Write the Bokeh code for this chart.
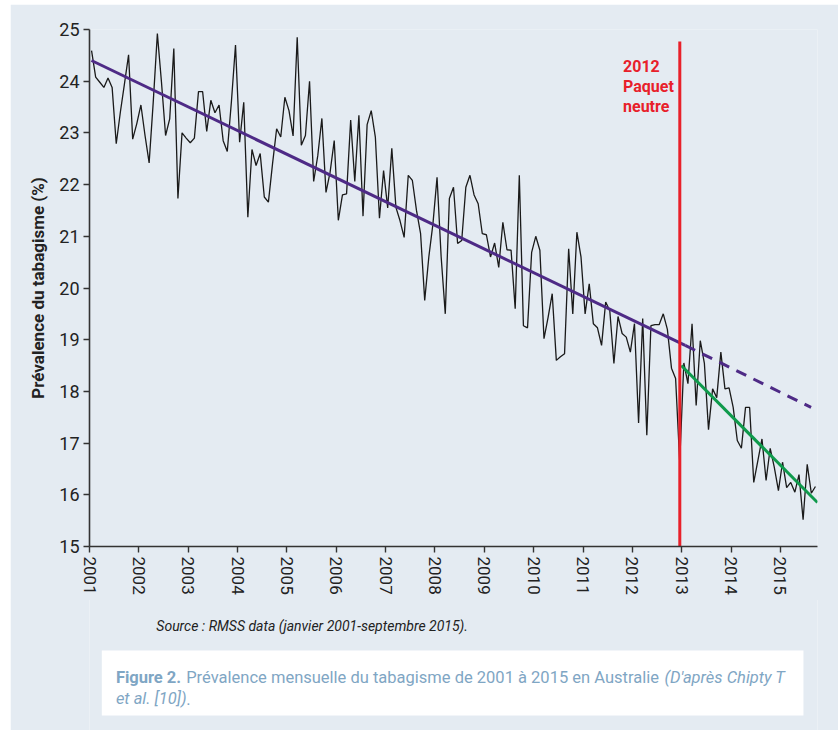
import math
from bokeh.plotting import figure
from bokeh.models import Range1d, FixedTicker, Spacer
from bokeh.layouts import column, row
from bokeh.core.properties import value
from bokeh.embed import file_html
from bokeh.resources import INLINE

# ---------------- data ----------------
# monthly smoking prevalence, Jan 2001 .. Sep 2015 (177 months)
prevalence = [
    24.59, 24.08, 23.98, 23.88, 24.06, 23.88, 22.79, 23.40, 23.95, 24.51, 22.88, 23.18,
    23.54, 22.95, 22.42, 23.60, 24.92, 23.98, 22.95, 23.27, 24.63, 21.73, 23.00, 22.90,
    22.81, 22.90, 23.80, 23.80, 23.03, 23.63, 23.39, 23.54, 22.85, 22.64, 23.60, 24.70,
    22.82, 23.59, 21.37, 22.68, 22.37, 22.60, 21.76, 21.66, 22.40, 23.08, 22.92, 23.69,
    23.43, 22.94, 24.85, 22.76, 22.95, 24.00, 22.06, 22.56, 23.28, 21.85, 22.24, 22.85,
    21.31, 21.80, 21.82, 23.25, 22.06, 23.34, 21.39, 23.16, 23.43, 22.92, 21.35, 22.27,
    21.55, 22.70, 21.56, 21.30, 20.98, 22.18, 22.08, 21.50, 21.05, 19.76, 20.60, 21.24,
    22.14, 20.60, 19.50, 21.73, 21.95, 20.86, 20.92, 21.95, 22.18, 21.80, 21.63, 21.05,
    21.03, 20.60, 20.87, 20.40, 21.27, 20.74, 20.73, 19.60, 22.18, 19.27, 19.23, 20.69,
    21.00, 20.73, 19.02, 19.43, 19.89, 18.60, 18.67, 18.73, 20.76, 19.50, 21.08, 20.60,
    19.50, 20.08, 19.31, 19.23, 18.89, 19.73, 19.56, 18.54, 19.45, 19.12, 19.05, 18.76,
    19.31, 17.39, 19.41, 17.15, 19.27, 19.29, 19.29, 19.50, 19.20, 18.45, 18.25, 16.63,
    18.55, 18.15, 19.31, 17.73, 18.98, 18.54, 17.26, 18.05, 17.88, 18.76, 18.05, 18.07,
    17.69, 17.05, 16.90, 17.69, 17.69, 16.24, 16.66, 17.08, 16.28, 16.90, 16.53, 16.08,
    16.63, 16.14, 16.24, 16.05, 16.39, 15.52, 16.59, 16.03, 16.16,
]
months = [2001 + (i + 0.5) / 12 for i in range(len(prevalence))]

trend_pre_x = [2001.04, 2013.07]
trend_pre_y = [24.40, 18.89]
trend_proj_x = [2013.07, 2015.62]
trend_proj_y = [18.89, 17.69]
trend_post_x = [2012.99, 2015.75]
trend_post_y = [18.50, 15.85]
policy_x = [2012.96]
policy_y0 = [15.0]
policy_y1 = [24.77]

year_ticks = list(range(2001, 2016))
y_ticks = list(range(15, 26))

# ---------------- style ----------------
BG = "#e4ebf2"
FONT = "Roboto"
PURPLE = "#4e2a86"
GREEN = "#0f9a4c"
RED = "#e8202a"
CAPTION = "#7fa6c4"

p = figure(width=828, height=596, output_backend="svg", toolbar_location=None,
           x_range=Range1d(2001, 2015.75), y_range=Range1d(15, 25),
           min_border_left=79, min_border_right=21, min_border_top=25, min_border_bottom=54,
           background_fill_color=BG, border_fill_color=BG, outline_line_color=None)
p.grid.visible = False

p.line(months, prevalence, line_color="#1a1a1a", line_width=1.3)
p.line(trend_pre_x, trend_pre_y, line_color=PURPLE, line_width=3)
p.line(trend_proj_x, trend_proj_y, line_color=PURPLE, line_width=3, line_dash="11 8")
p.line(trend_post_x, trend_post_y, line_color=GREEN, line_width=3)
p.segment(x0=policy_x, y0=policy_y0, x1=policy_x, y1=policy_y1, line_color=RED, line_width=3)

p.text(x=[2011.81] * 3, y=[24.30, 23.90, 23.51], text=["2012", "Paquet", "neutre"],
       text_color=RED, text_font=value(FONT), text_font_style="bold",
       text_font_size="16px", text_align="left", text_baseline="middle")

for ax in (p.xaxis[0], p.yaxis[0]):
    ax.axis_line_color = "#333333"
    ax.axis_line_width = 1.6
    ax.major_tick_line_color = "#333333"
    ax.major_tick_line_width = 1.4
    ax.major_tick_out = 6
    ax.major_tick_in = 0
    ax.minor_tick_line_color = None
    ax.major_label_text_font = FONT
    ax.major_label_text_color = "#222222"

p.xaxis.major_label_text_font_size = "17px"
p.yaxis.major_label_text_font_size = "18px"
p.xaxis.ticker = FixedTicker(ticks=year_ticks)
p.xaxis.major_label_orientation = -math.pi / 2
p.xaxis.major_label_standoff = 4
p.yaxis.ticker = FixedTicker(ticks=y_ticks)
p.yaxis.major_label_standoff = 4
p.yaxis.axis_label = "Prévalence du tabagisme (%)"
p.yaxis.axis_label_text_font = FONT
p.yaxis.axis_label_text_font_style = "bold"
p.yaxis.axis_label_text_font_size = "17px"
p.yaxis.axis_label_text_color = "#222222"
p.yaxis.axis_label_standoff = 8

# ---------------- caption panel (coordinates = page pixels) ----------------
c = figure(width=828, height=131, output_backend="svg", toolbar_location=None,
           x_range=Range1d(10, 838), y_range=Range1d(730, 599),
           min_border=0, background_fill_color=BG, border_fill_color=BG,
           outline_line_color=None, margin=(-1, 0, 0, 0))
c.axis.visible = False
c.grid.visible = False
c.quad(left=[24], right=[822], top=[650], bottom=[715], fill_color="white", line_color=None)
c.text(x=[86], y=[625], text=["Source : RMSS data (janvier 2001-septembre 2015)."],
       text_font=value(FONT), text_font_style="italic", text_font_size="14px",
       text_color="#222222", text_baseline="middle")
c.text(x=[40], y=[677], text=["Figure 2."], text_font=value(FONT), text_font_style="bold",
       text_font_size="16.5px", text_color=CAPTION, text_baseline="middle")
c.text(x=[120], y=[677], text=["Prévalence mensuelle du tabagisme de 2001 à 2015 en Australie"],
       text_font=value(FONT), text_font_size="16.5px", text_color=CAPTION, text_baseline="middle")
c.text(x=[664], y=[677], text=["(D'après Chipty T"], text_font=value(FONT), text_font_style="italic",
       text_font_size="16.5px", text_color=CAPTION, text_baseline="middle")
c.text(x=[40], y=[698], text=["et al. [10])"], text_font=value(FONT), text_font_style="italic",
       text_font_size="16.5px", text_color=CAPTION, text_baseline="middle")
c.text(x=[120], y=[698], text=["."], text_font=value(FONT),
       text_font_size="16.5px", text_color=CAPTION, text_baseline="middle")

layout = column(Spacer(height=4), row(Spacer(width=10), column(p, c, spacing=0), spacing=0), spacing=0)
open("out.html", "w").write(file_html(layout, INLINE))
